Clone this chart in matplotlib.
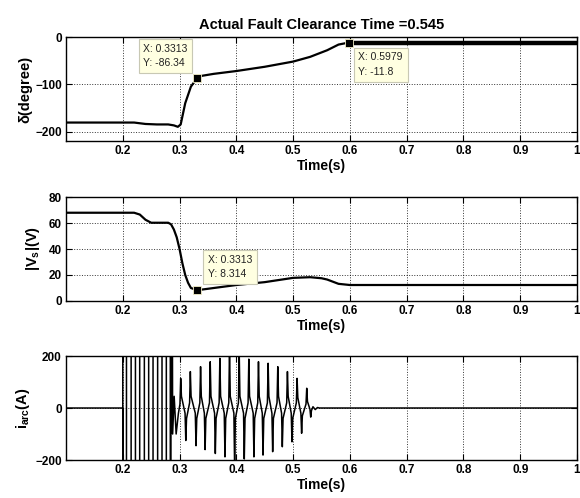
import numpy as np
import matplotlib
matplotlib.use("Agg")
import matplotlib.pyplot as plt

plt.rcParams['font.family'] = ['Liberation Sans', 'DejaVu Sans']
plt.rcParams['mathtext.fontset'] = 'custom'
plt.rcParams['mathtext.rm'] = 'Liberation Sans:bold'
plt.rcParams['mathtext.it'] = 'Liberation Sans:bold'
plt.rcParams['mathtext.bf'] = 'Liberation Sans:bold'

# rotor angle delta (degree)
t_delta = [0.1, 0.2, 0.22, 0.24, 0.26, 0.28, 0.29, 0.297, 0.302, 0.31, 0.32, 0.3313,
           0.34, 0.36, 0.4, 0.45, 0.5, 0.53, 0.56, 0.58, 0.5979, 0.7, 0.8, 0.9, 1.0]
delta = [-181, -181, -181, -184, -185, -185, -187, -190, -185, -140, -105, -86.34,
         -82, -78, -72, -63, -52, -42, -28, -16, -11.8, -11.8, -11.8, -11.8, -11.8]

# terminal voltage |Vs| (V)
t_vs = [0.1, 0.22, 0.23, 0.24, 0.25, 0.28, 0.285, 0.29, 0.295, 0.30, 0.305, 0.31,
        0.315, 0.32, 0.3313, 0.4, 0.45, 0.5, 0.53, 0.55, 0.56, 0.58, 0.6, 0.8, 1.0]
vs = [67.9, 67.9, 66.5, 62.5, 60.2, 60.2, 59, 55, 49, 40, 29, 20,
      14, 10, 8.314, 12.3, 14.5, 17.8, 18.3, 17.5, 16.5, 13.2, 12.3, 12.3, 12.3]

# arc current (A): first part swings far off the +-200 scale
B = 1000
t_arc_start = [0.1, 0.2, 0.2, 0.2, 0.2065, 0.2065, 0.2147, 0.2147, 0.2223, 0.2223,
               0.2298, 0.2298, 0.238, 0.238, 0.2456, 0.2456, 0.2533, 0.2533, 0.2614, 0.2614,
               0.2691, 0.2691, 0.2767, 0.2767, 0.2837, 0.2837, 0.2845, 0.285, 0.2862, 0.2868,
               0.2878, 0.2905, 0.294, 0.298]
i_arc_start = [0, 0, -B, B, B, -B, -B, B, B, -B,
               -B, B, B, -B, -B, B, B, -B, -B, B,
               B, -B, -B, B, B, -B, -B, B, -95, B,
               -100, 45, -100, -20]
# decaying oscillation: spike times, spike peaks, level just before / after each spike
spike_t = [0.302, 0.311, 0.319, 0.329, 0.337, 0.345, 0.354, 0.363, 0.371, 0.380,
           0.388, 0.397, 0.405, 0.414, 0.422, 0.431, 0.439, 0.447, 0.456, 0.464,
           0.473, 0.481, 0.490, 0.498, 0.507, 0.515, 0.524, 0.531]
spike_v = [114, -125, 140, -145, 159, -160, 178, -175, 191, -188,
           230, -230, 225, -196, 188, -188, 178, -181, 172, -168,
           159, -149, 140, -130, 114, -97, 76, -35]
pre_v = [15, -20, 20, -20, 20, -20, 20, -20, 20, -20,
         20, -20, 20, -20, 20, -20, 20, -20, 20, -20,
         20, -20, 20, -20, 20, -20, 15, -5]
post_v = [45, -40, 45, -40, 45, -40, 45, -40, 45, -40,
          45, -40, 45, -40, 45, -40, 45, -40, 45, -40,
          45, -40, 45, -40, 40, -30, 25, -10]
t_arc_end = [0.535, 0.539, 0.543, 0.546, 1.0]
i_arc_end = [5, -6, 2, 0, 0]

x_ticks = [0.2, 0.3, 0.4, 0.5, 0.6, 0.7, 0.8, 0.9, 1.0]
x_ticklabels = ['0.2', '0.3', '0.4', '0.5', '0.6', '0.7', '0.8', '0.9', '1']

# data tips
tips1 = [(0.3313, -86.34, 'X: 0.3313\nY: -86.34', 'ul'),
         (0.5979, -11.8, 'X: 0.5979\nY: -11.8', 'lr')]
tips2 = [(0.3313, 8.314, 'X: 0.3313\nY: 8.314', 'ur')]

# build arc current polyline
t_arc = list(t_arc_start)
i_arc = list(i_arc_start)
w = 0.0013
for ts, vp, a, b in zip(spike_t, spike_v, pre_v, post_v):
    t_arc += [ts - w, ts, ts + w]
    i_arc += [a, vp, b]
t_arc += t_arc_end
i_arc += i_arc_end

fig = plt.figure(figsize=(5.8, 4.98), dpi=100)
ax1 = fig.add_axes([0.1138, 0.7169, 0.881, 0.2088])
ax2 = fig.add_axes([0.1138, 0.3956, 0.881, 0.2088])
ax3 = fig.add_axes([0.1138, 0.0763, 0.881, 0.2088])

t_delta = np.array(t_delta)
delta = np.array(delta)
ax1.plot(t_delta, delta, color='k', lw=1.6)
m = t_delta >= 0.5979
ax1.plot(t_delta[m], delta[m], color='k', lw=3.2)
ax1.set_ylim(-220, 0)
ax1.set_yticks([-200, -100, 0])
ax1.set_ylabel('δ(degree)', fontsize=10.5, fontweight='bold', labelpad=2)
ax1.set_title('Actual Fault Clearance Time =0.545', fontsize=10.5, fontweight='bold', pad=6)

ax2.plot(t_vs, vs, color='k', lw=1.6)
ax2.set_ylim(0, 80)
ax2.set_yticks([0, 20, 40, 60, 80])
ax2.set_ylabel('|V$_s$|(V)', fontsize=10.5, fontweight='bold', labelpad=5)

ax3.plot(t_arc, i_arc, color='k', lw=1.1)
ax3.set_ylim(-200, 200)
ax3.set_yticks([-200, 0, 200])
ax3.set_ylabel('i$_{arc}$(A)', fontsize=10.5, fontweight='bold', labelpad=2)

for ax in (ax1, ax2, ax3):
    ax.set_xlim(0.1, 1.0)
    ax.set_xticks(x_ticks)
    ax.set_xticklabels(x_ticklabels)
    ax.tick_params(direction='in', length=4, width=0.8, top=True, right=True,
                   labelsize=8.5, pad=3)
    for lab in ax.get_xticklabels() + ax.get_yticklabels():
        lab.set_fontweight('bold')
    ax.grid(True, linestyle=':', color='k', lw=0.7, alpha=0.8)
    ax.set_xlabel('Time(s)', fontsize=10, fontweight='bold', labelpad=1)
    for s in ax.spines.values():
        s.set_linewidth(1.0)

offsets = {'ul': ((-7, 6.8), 'right', 'bottom'),
           'lr': ((7, -7), 'left', 'top'),
           'ur': ((7.5, 7.7), 'left', 'bottom')}
for ax, tips in ((ax1, tips1), (ax2, tips2)):
    for x, y, txt, pos in tips:
        ax.plot([x], [y], marker='s', color='k', ms=5.5, mec='#f5f0c8', mew=0.6, zorder=8)
        off, ha, va = offsets[pos]
        ax.annotate(txt, (x, y), xytext=off, textcoords='offset points', ha=ha, va=va,
                    multialignment='left', fontsize=7.5, linespacing=1.6, color='#222222',
                    zorder=6,
                    bbox=dict(boxstyle='square,pad=0.45', fc='#ffffe1', ec='#c8c8b4', lw=0.8))

fig.savefig('out.png', dpi=100)
